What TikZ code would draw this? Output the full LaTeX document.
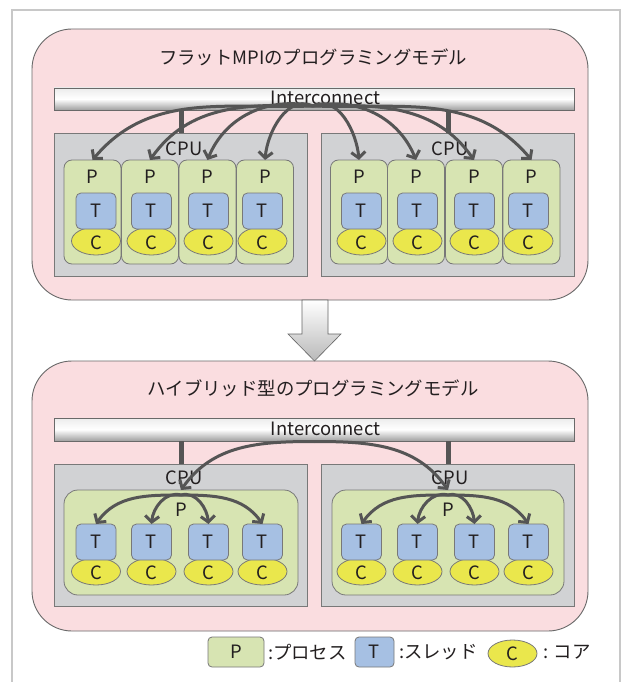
\documentclass[tikz,border=0pt]{standalone}
\usepackage{fontspec}
\setmainfont{Noto Sans CJK JP}
\usetikzlibrary{arrows.meta,shapes.geometric}
\definecolor{pinkbg}{RGB}{250,221,224}
\definecolor{panelline}{RGB}{105,105,105}
\definecolor{cpugray}{RGB}{209,210,212}
\definecolor{cpuline}{RGB}{120,120,120}
\definecolor{pgreen}{RGB}{215,228,178}
\definecolor{tblue}{RGB}{166,192,227}
\definecolor{cyellow}{RGB}{234,231,76}
\definecolor{arrcol}{RGB}{85,85,85}
\definecolor{txtcol}{RGB}{35,31,32}
\definecolor{framecol}{RGB}{200,200,200}
\tikzset{
 txt/.style={font=\fontsize{18.4}{21}\selectfont, text=txtcol, inner sep=0pt, outer sep=0pt},
 panel/.style={draw=panelline, fill=pinkbg, line width=0.9pt, rounded corners=40pt, minimum width=556pt, inner sep=0pt, outer sep=0pt},
 bar/.style={draw=panelline, line width=0.8pt, top color=white!85!gray, bottom color=gray!75, middle color=white, minimum width=520pt, inner sep=0pt, outer sep=0pt},
 cpubox/.style={draw=cpuline, fill=cpugray, line width=0.8pt, minimum width=253pt, inner sep=0pt, outer sep=0pt},
 pbox/.style={draw=cpuline, fill=pgreen, line width=0.8pt, rounded corners=8pt, inner sep=0pt, outer sep=0pt},
 tbox/.style={draw=cpuline, fill=tblue, line width=0.8pt, rounded corners=5pt, minimum width=40pt, minimum height=36pt, inner sep=0pt, outer sep=0pt},
 cell/.style={ellipse, draw=cpuline, fill=cyellow, line width=0.8pt, minimum width=49pt, minimum height=28pt, inner sep=0pt, outer sep=0pt},
 stub/.style={draw=arrcol, line width=5pt},
 arr/.style={draw=arrcol, line width=3pt, -{Straight Barb[length=6pt,width=14pt]}},
}
\begin{document}
\begin{tikzpicture}[x=1pt,y=-1pt]
\useasboundingbox (0,0) rectangle (621,682);
\fill[white] (0,0) rectangle (621,682);
\draw[framecol, line width=1.5pt] (12,682) -- (12,10) -- (620,10) -- (620,682);

% panels
\node[panel, minimum height=271pt] (toppanel) at (310,164.5) {};
\node[panel, minimum height=270pt] (botpanel) at (310,496) {};
\node[txt] (toptitle) at (313,57) {フラットMPIのプログラミングモデル};
\node[txt] (bottitle) at (313,388) {ハイブリッド型のプログラミングモデル};

% down block arrow
\shade[top color=white, bottom color=gray!55, draw=gray!80!black, line width=0.6pt]
  (302,300) -- (328,300) -- (328,334) -- (341,334) -- (314.5,361) -- (288,334) -- (302,334) -- cycle;

% ---------- top panel ----------
\node[bar, minimum height=22pt] (topbar) at (314,99) {};
\node[txt] (toptext) at (325.5,98) {Interconnect};
\node[cpubox, minimum height=143pt] (cpuTL) at (181,204.5) {};
\node[cpubox, minimum height=143pt] (cpuTR) at (448,204.5) {};
\draw[stub] (cpuTL.north) -- (cpuTL.north |- topbar.south);
\draw[stub] (cpuTR.north) -- (cpuTR.north |- topbar.south);
\node[txt] (cpuTLl) at (184,149) {CPU};
\node[txt] (cpuTRl) at (450,149) {CPU};

\foreach \i/\px/\tx in {1/92.5/96, 2/150/151.5, 3/207.5/208.5, 4/265/262.5, 5/359/361.5, 6/416/417.5, 7/474/474.5, 8/531.5/528.5}{
  \node[pbox, minimum width=57pt, minimum height=104pt] (tp\i) at (\px,212) {};
  \node[txt] (tpl\i) at (\px,177) {P};
  \node[cell] (tc\i) at (\tx,241) {};
  \node[txt] (tcl\i) at (\tx,243) {C};
  \node[tbox, txt] (tt\i) at (\tx,211) {T};
}

\coordinate (hubT) at (313,106);
\draw[arr] (hubT) to[out=182,in=50] (tp1.north);
\draw[arr] (hubT) to[out=178,in=55] (tp2.north);
\draw[arr] (hubT) to[out=168,in=68] (tp3.north);
\draw[arr] (hubT) to[out=155,in=85] (tp4.north);
\draw[arr] (hubT) to[out=25,in=95] (tp5.north);
\draw[arr] (hubT) to[out=12,in=112] (tp6.north);
\draw[arr] (hubT) to[out=2,in=125] (tp7.north);
\draw[arr] (hubT) to[out=-2,in=130] (tp8.north);

% ---------- bottom panel ----------
\node[bar, minimum height=23pt] (botbar) at (314,429.5) {};
\node[txt] (bottext) at (325.5,429) {Interconnect};
\node[cpubox, minimum height=142pt] (cpuBL) at (181,535) {};
\node[cpubox, minimum height=142pt] (cpuBR) at (448,535) {};
\draw[stub] (cpuBL.north) -- (cpuBL.north |- botbar.south);
\draw[stub] (cpuBR.north) -- (cpuBR.north |- botbar.south);
\node[txt] (cpuBLl) at (184,478) {CPU};
\node[txt] (cpuBRl) at (450,478) {CPU};
\node[pbox, rounded corners=14pt, minimum width=234pt, minimum height=105pt] (bp1) at (181,542.5) {};
\node[pbox, rounded corners=14pt, minimum width=232pt, minimum height=105pt] (bp2) at (448,542.5) {};
\node[txt] (bpl1) at (181,510) {P};
\node[txt] (bpl2) at (448,510) {P};

\foreach \i/\tx in {1/96, 2/151.5, 3/208.5, 4/262.5, 5/361.5, 6/417.5, 7/474.5, 8/528.5}{
  \node[cell, minimum height=27pt] (bc\i) at (\tx,571.5) {};
  \node[txt] (bcl\i) at (\tx,573) {C};
  \node[tbox, txt] (bt\i) at (\tx,542) {T};
}

\coordinate (hubB) at (314,441.5);
\draw[arr] (hubB) to[out=180,in=55] (bp1.north);
\draw[arr] (hubB) to[out=0,in=125] (bp2.north);

\coordinate (fan1) at ([yshift=-5pt]bp1.north);
\coordinate (fan2) at ([yshift=-5pt]bp2.north);
\draw[arr] (fan1) to[out=180,in=55] (bt1.north);
\draw[arr] (fan1) to[out=165,in=85] (bt2.north);
\draw[arr] (fan1) to[out=15,in=95] (bt3.north);
\draw[arr] (fan1) to[out=0,in=125] (bt4.north);
\draw[arr] (fan2) to[out=180,in=55] (bt5.north);
\draw[arr] (fan2) to[out=165,in=85] (bt6.north);
\draw[arr] (fan2) to[out=15,in=95] (bt7.north);
\draw[arr] (fan2) to[out=0,in=125] (bt8.north);

% ---------- legend ----------
\node[pbox, rounded corners=4pt, minimum width=56pt, minimum height=30pt, txt] (legP) at (236,652) {P};
\node[txt, anchor=west] (legPt) at (268,652) {:プロセス};
\node[tbox, minimum width=39pt, minimum height=30pt, rounded corners=4pt, txt] (legT) at (374.5,652) {T};
\node[txt, anchor=west] (legTt) at (399,652) {:スレッド};
\node[cell, minimum width=49pt, minimum height=27pt, txt] (legC) at (512.5,653.5) {C};
\node[txt, anchor=west] (legCt) at (543,652) {: コア};
\end{tikzpicture}
\end{document}
